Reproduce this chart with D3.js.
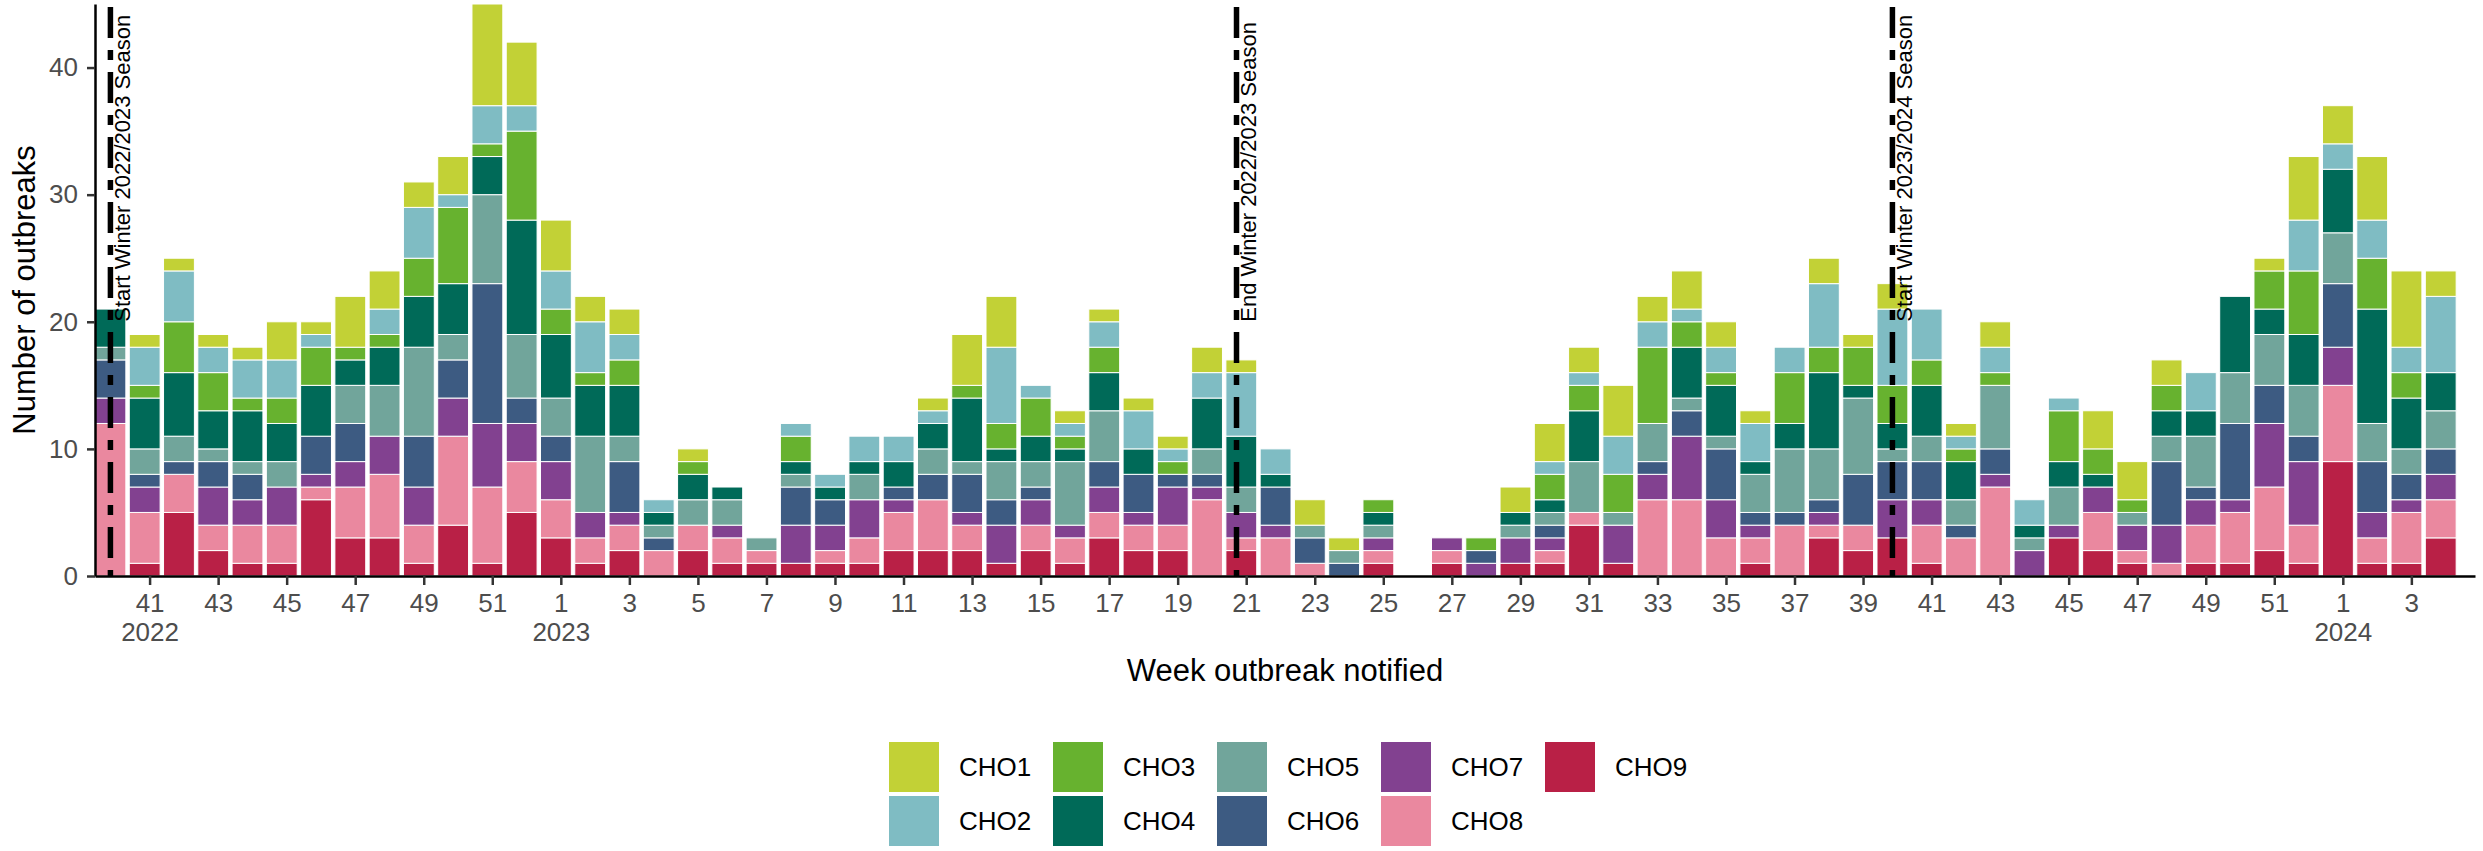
<!DOCTYPE html>
<html>
<head>
<meta charset="utf-8">
<script src="https://cdn.jsdelivr.net/npm/d3@7"></script>
<style>
    body { margin: 0; background: #fff; }
    svg text { font-family: "Liberation Sans", Arial, sans-serif; }
</style>
</head>
<body>
<svg id="chart"></svg>
<script>
// week notified (ISO week), 2022 w40 .. 2024 w4
const weeks = [
    40, 41, 42, 43, 44, 45, 46, 47, 48, 49, 50, 51, 52,
    1, 2, 3, 4, 5, 6, 7, 8, 9, 10, 11, 12, 13, 14, 15, 16, 17, 18, 19, 20,
    21, 22, 23, 24, 25, 26, 27, 28, 29, 30, 31, 32, 33, 34, 35, 36, 37, 38,
    39, 40, 41, 42, 43, 44, 45, 46, 47, 48, 49, 50, 51, 52,
    1, 2, 3, 4
];
const years = [
    2022, 2022, 2022, 2022, 2022, 2022, 2022, 2022, 2022, 2022, 2022, 2022, 2022,
    2023, 2023, 2023, 2023, 2023, 2023, 2023, 2023, 2023, 2023, 2023, 2023, 2023,
    2023, 2023, 2023, 2023, 2023, 2023, 2023, 2023, 2023, 2023, 2023, 2023, 2023,
    2023, 2023, 2023, 2023, 2023, 2023, 2023, 2023, 2023, 2023, 2023, 2023, 2023,
    2023, 2023, 2023, 2023, 2023, 2023, 2023, 2023, 2023, 2023, 2023, 2023, 2023,
    2024, 2024, 2024, 2024
];

const seriesNames = ['CHO1', 'CHO2', 'CHO3', 'CHO4', 'CHO5', 'CHO6', 'CHO7', 'CHO8', 'CHO9'];
const seriesColors = ['#C2D136', '#7FBCC3', '#67B22F', '#006A58', '#71A59B', '#3D5B82', '#824190', '#EA889F', '#B92046'];

const cho1 = [0, 1, 1, 1, 1, 3, 1, 4, 3, 2, 3, 8, 5,
    4, 2, 2, 0, 1, 0, 0, 0, 0, 0, 0, 1, 4, 4, 0, 1, 1, 1, 1, 2,
    1, 0, 2, 1, 0, 0, 0, 0, 2, 3, 2, 4, 2, 3, 2, 1, 0, 2, 1, 2,
    0, 1, 2, 0, 0, 3, 3, 2, 0, 0, 1, 5,
    3, 5, 6, 2];
const cho2 = [0, 3, 4, 2, 3, 3, 1, 0, 2, 4, 1, 3, 2,
    3, 4, 2, 1, 0, 0, 0, 1, 1, 2, 2, 1, 0, 6, 1, 1, 2, 3, 1, 2,
    5, 2, 0, 0, 0, 0, 0, 0, 0, 1, 1, 3, 2, 1, 2, 3, 2, 5, 0, 6,
    4, 1, 2, 2, 1, 0, 0, 0, 3, 0, 0, 4,
    2, 3, 2, 6];
const cho3 = [0, 1, 4, 3, 1, 2, 3, 1, 1, 3, 6, 1, 7,
    2, 1, 2, 0, 1, 0, 0, 2, 0, 0, 0, 0, 1, 2, 3, 1, 2, 0, 1, 0,
    0, 0, 0, 0, 1, 0, 0, 1, 0, 2, 2, 3, 6, 2, 1, 0, 4, 2, 3, 3,
    2, 1, 1, 0, 4, 2, 1, 2, 0, 0, 3, 5,
    0, 4, 2, 0];
const cho4 = [3, 4, 5, 3, 4, 3, 4, 2, 3, 4, 4, 3, 9,
    5, 4, 4, 1, 2, 1, 0, 1, 1, 1, 2, 2, 5, 1, 2, 1, 3, 2, 0, 4,
    4, 1, 0, 0, 1, 0, 0, 0, 1, 1, 4, 0, 0, 4, 4, 1, 2, 6, 1, 2,
    4, 3, 0, 1, 2, 1, 0, 2, 2, 6, 2, 4,
    5, 9, 4, 3];
const cho5 = [1, 2, 2, 1, 1, 2, 0, 3, 4, 7, 2, 7, 5,
    3, 6, 2, 1, 2, 2, 1, 1, 0, 2, 0, 2, 1, 3, 2, 5, 4, 0, 0, 2,
    2, 0, 1, 1, 1, 0, 0, 0, 1, 1, 4, 1, 3, 1, 1, 3, 5, 4, 6, 1,
    2, 2, 5, 1, 3, 0, 1, 2, 4, 4, 4, 4,
    4, 3, 2, 3];
const cho6 = [3, 1, 1, 2, 2, 0, 3, 3, 0, 4, 3, 11, 2,
    2, 0, 4, 1, 0, 0, 0, 3, 2, 0, 1, 2, 3, 2, 1, 0, 2, 3, 1, 1,
    0, 3, 2, 1, 0, 0, 0, 1, 0, 1, 0, 0, 1, 2, 4, 1, 1, 1, 4, 3,
    3, 1, 2, 0, 0, 0, 0, 5, 1, 6, 3, 2,
    5, 4, 2, 2];
const cho7 = [2, 2, 0, 3, 2, 3, 1, 2, 3, 3, 3, 5, 3,
    3, 2, 1, 0, 0, 1, 0, 3, 2, 3, 1, 0, 1, 3, 2, 1, 2, 1, 3, 1,
    2, 1, 0, 0, 1, 0, 1, 1, 2, 1, 0, 3, 2, 5, 3, 1, 0, 1, 0, 3,
    2, 0, 1, 2, 1, 2, 2, 3, 2, 1, 5, 5,
    3, 2, 1, 2];
const cho8 = [12, 4, 3, 2, 3, 3, 1, 4, 5, 3, 7, 6, 4,
    3, 2, 2, 2, 2, 2, 1, 0, 1, 2, 3, 4, 2, 0, 2, 2, 2, 2, 2, 6,
    1, 3, 1, 0, 1, 0, 1, 0, 0, 1, 1, 0, 6, 6, 3, 2, 4, 1, 2, 0,
    3, 3, 7, 0, 0, 3, 1, 1, 3, 4, 5, 3,
    6, 2, 4, 3];
const cho9 = [0, 1, 5, 2, 1, 1, 6, 3, 3, 1, 4, 1, 5,
    3, 1, 2, 0, 2, 1, 1, 1, 1, 1, 2, 2, 2, 1, 2, 1, 3, 2, 2, 0,
    2, 0, 0, 0, 1, 0, 1, 0, 1, 1, 4, 1, 0, 0, 0, 1, 0, 3, 2, 3,
    1, 0, 0, 0, 3, 2, 1, 0, 1, 1, 2, 1,
    9, 1, 1, 3];

// season markers, position in weeks from 2022 w40
const seasonLabels = ['Start Winter 2022/2023 Season', 'End Winter 2022/2023 Season', 'Start Winter 2023/2024 Season'];
const seasonPos = [0, 32.86, 52];
const seasonLabelFrom = 20;

const yTicks = [0, 10, 20, 30, 40];

const seriesValues = [cho1, cho2, cho3, cho4, cho5, cho6, cho7, cho8, cho9];
const color = {};
seriesNames.forEach((s, k) => (color[s] = seriesColors[k]));

const rows = weeks.map(function (w, i) {
    const r = { i: i, week: w, year: years[i] };
    seriesNames.forEach((s, k) => (r[s] = seriesValues[k][i]));
    return r;
});

const width = 2483;
const height = 851;
const barWidth = 0.9;
const tickShift = 1 / 7; // ticks sit one day after the week start

const svg = d3.select('#chart').attr('width', width).attr('height', height);

const x = d3.scaleLinear().domain([-barWidth / 2, weeks.length]).range([95, 2475]);
const y = d3.scaleLinear().domain([0, 45]).range([576, 4]);

// CHO9 at the bottom, CHO1 on top
const stacked = d3.stack().keys(seriesNames.slice().reverse())(rows);

svg.append('g')
    .selectAll('g')
    .data(stacked)
    .join('g')
    .attr('fill', (d) => color[d.key])
    .selectAll('rect')
    .data((d) => d.filter((p) => p[1] > p[0]))
    .join('rect')
    .attr('x', (d) => x(d.data.i - barWidth / 2))
    .attr('width', x(barWidth) - x(0))
    .attr('y', (d) => y(d[1]))
    .attr('height', (d) => y(d[0]) - y(d[1]))
    .attr('stroke', 'white')
    .attr('stroke-width', 1);

// season lines
const seasons = svg.append('g');
seasons.selectAll('line')
    .data(seasonPos)
    .join('line')
    .attr('x1', (d) => x(d))
    .attr('x2', (d) => x(d))
    .attr('y1', y(45))
    .attr('y2', y(0))
    .attr('stroke', 'black')
    .attr('stroke-width', 5.5)
    .attr('stroke-dasharray', '31,12,10,12')
    .attr('stroke-dashoffset', 62);

seasons.selectAll('text')
    .data(seasonPos)
    .join('text')
    .attr('transform', (d) => `translate(${x(d) + 12},${y(seasonLabelFrom)}) rotate(-90)`)
    .attr('dy', '0.35em')
    .attr('font-size', 22)
    .attr('fill', 'black')
    .text((d, k) => seasonLabels[k]);

// axes
const tickIdx = weeks.map((w, i) => i).filter((i) => weeks[i] % 2 === 1);

const xAxis = svg.append('g')
    .attr('transform', `translate(0,${y(0)})`)
    .call(
        d3.axisBottom(x)
            .tickValues(tickIdx.map((i) => i + tickShift))
            .tickFormat((v) => weeks[Math.round(v - tickShift)])
            .tickSize(9)
            .tickSizeOuter(0)
            .tickPadding(9)
    );

xAxis.selectAll('.tick').each(function (v) {
    const i = Math.round(v - tickShift);
    if (i === tickIdx[0] || years[i] !== years[i - 1] || weeks[i] === 1) {
        d3.select(this)
            .append('text')
            .attr('y', 18 + 29)
            .attr('dy', '0.71em')
            .attr('fill', '#4D4D4D')
            .text(years[i]);
    }
});

const yAxis = svg.append('g')
    .attr('transform', `translate(${x.range()[0]},0)`)
    .call(d3.axisLeft(y).tickValues(yTicks).tickSize(8).tickSizeOuter(0).tickPadding(9));

[xAxis, yAxis].forEach(function (g) {
    g.attr('font-size', 26).attr('font-family', null);
    g.select('.domain').attr('stroke', 'black').attr('stroke-width', 2.5);
    g.selectAll('.tick line').attr('stroke', '#333333').attr('stroke-width', 2.5);
    g.selectAll('.tick text').attr('fill', '#4D4D4D');
});

// titles
svg.append('text')
    .attr('x', (x.range()[0] + x.range()[1]) / 2)
    .attr('y', 670)
    .attr('dy', '0.35em')
    .attr('text-anchor', 'middle')
    .attr('font-size', 31)
    .text('Week outbreak notified');

svg.append('text')
    .attr('transform', `translate(24,${(y(0) + y(45)) / 2}) rotate(-90)`)
    .attr('dy', '0.35em')
    .attr('text-anchor', 'middle')
    .attr('font-size', 31)
    .text('Number of outbreaks');

// legend, two rows filled column by column
const legend = svg.append('g').attr('transform', 'translate(889,742)');
const item = legend.selectAll('g')
    .data(seriesNames)
    .join('g')
    .attr('transform', (d, k) => `translate(${Math.floor(k / 2) * 164},${(k % 2) * 54})`);

item.append('rect')
    .attr('width', 50)
    .attr('height', 50)
    .attr('fill', (d) => color[d]);

item.append('text')
    .attr('x', 70)
    .attr('y', 25)
    .attr('dy', '0.35em')
    .attr('font-size', 26)
    .text((d) => d);
</script>
</body>
</html>
